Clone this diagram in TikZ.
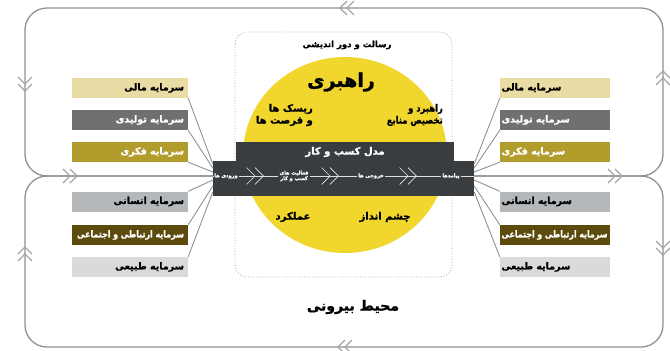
\documentclass[tikz,border=0pt]{standalone}
\usepackage{fontspec}
\usepackage{graphicx}
\usetikzlibrary{calc}
\newfontfamily\fa[Script=Arabic, BoldFeatures={FakeBold=1.3}]{DejaVu Sans}
\newfontfamily\fanar[Script=Arabic, FakeStretch=0.84, BoldFeatures={FakeBold=1.3}]{DejaVu Sans}
\TeXXeTstate=1
\newcommand\rl[1]{\beginR #1\endR}
\definecolor{cyel}{RGB}{241,215,45}
\definecolor{cband}{RGB}{58,61,63}
\definecolor{ctan}{RGB}{234,220,165}
\definecolor{cgray}{RGB}{110,113,112}
\definecolor{colive}{RGB}{178,156,44}
\definecolor{clgray}{RGB}{181,184,186}
\definecolor{cdolive}{RGB}{92,75,12}
\definecolor{cvlgray}{RGB}{218,218,218}
\definecolor{cline}{RGB}{145,145,145}
\definecolor{cchev}{RGB}{165,165,165}
\tikzset{
  dchev/.pic={\draw[pic actions] (-7,-7)--(0,0)--(-7,7) (0,-7)--(7,0)--(0,7);},
  outer/.style={draw=cline, line width=1.3pt, rounded corners=22pt},
  ochev/.style={draw=cchev, line width=1.1pt},
  bchev/.style={draw=white!80!gray, line width=0.7pt, scale=1.2},
  conn/.style={draw=cline, line width=0.9pt},
  boxfont/.style={font=\fa\bfseries\fontsize{9.5}{11}\selectfont},
  lbox/.style={boxfont, minimum height=20pt, text width=108pt, inner xsep=4pt, inner ysep=0pt, align=right},
  rbox/.style={boxfont, minimum height=20pt, text width=107pt, inner xsep=1.5pt, inner ysep=0pt, align=left},
  ctext/.style={font=\fa\bfseries\fontsize{10}{12}\selectfont, inner sep=1pt},
  flow/.style={text=white, font=\fa\bfseries\fontsize{5}{5.5}\selectfont, inner sep=1.5pt, align=center},
  flowline/.style={draw=white!75!gray, line width=0.6pt}
}
\begin{document}
\begin{tikzpicture}[x=1pt,y=-1pt]
\useasboundingbox (0,0) rectangle (670,351);
% outer loops
\draw[outer] (25,8) rectangle (663,176);
\draw[outer] (25,176) rectangle (663,347);
\pic[ochev, rotate=180] at (347,8) {dchev};
\pic[ochev, rotate=-90] at (25,84) {dchev};
\pic[ochev, rotate=90] at (663,78) {dchev};
\pic[ochev] at (70,176) {dchev};
\pic[ochev] at (615,176) {dchev};
\pic[ochev, rotate=90] at (25,254) {dchev};
\pic[ochev, rotate=-90] at (663,248) {dchev};
\pic[ochev, rotate=180] at (345,347) {dchev};
% central dotted frame
\draw[dotted, draw=gray!75, line width=0.8pt, rounded corners=12pt] (235,32) rectangle (452,277);
\node[font=\fa\bfseries\fontsize{8.5}{10}\selectfont] (mission) at (347,45) {\rl{رسالت و دور اندیشی}};
% yellow disc
\fill[cyel] (345,155) ellipse [x radius=102pt, y radius=98pt];
\node[font=\fa\bfseries\fontsize{19}{22}\selectfont, inner sep=0pt] (rahbari) at (341,82) {\rl{راهبری}};
\node[ctext, align=right, anchor=east] (risk) at (314,115) {\rl{ریسک ها}\\\rl{و فرصت ها}};
\node[ctext, align=right, anchor=east, font=\fanar\bfseries\fontsize{10}{12}\selectfont] (strat) at (444,115) {\rl{راهبرد و}\\\rl{تخصیص منابع}};
\node[ctext] (amal) at (293,217) {\rl{عملکرد}};
\node[ctext] (cheshm) at (385,217) {\rl{چشم انداز}};
% business model band
\node[fill=cband, minimum width=261pt, minimum height=35pt, inner sep=0pt] (bandL) at (343.5,178.5) {};
\node[fill=cband, minimum width=218pt, minimum height=20pt, inner sep=0pt, text=white, font=\fa\bfseries\fontsize{10}{11}\selectfont] (bandU) at (345,152) {\rl{مدل کسب و کار}};
\node[flow] (f1) at (226,176) {\rl{ورودی ها}};
\node[flow] (f2) at (294,176) {\rl{فعالیت های}\\\rl{کسب و کار}};
\node[flow] (f3) at (371,176) {\rl{خروجی ها}};
\node[flow] (f4) at (451,176) {\rl{پیامدها}};
\draw[flowline] (bandL.west |- f1) -- (f1);
\draw[flowline] (f1) -- (f2);
\draw[flowline] (f2) -- (f3);
\draw[flowline] (f3) -- (f4);
\draw[flowline] (f4) -- (bandL.east |- f4);
\pic[bchev] at (255,176) {dchev};
\pic[bchev] at (330,176) {dchev};
\pic[bchev] at (408,176) {dchev};
% left capitals
\node[lbox, fill=ctan] (l1) at (130,88) {\rl{سرمایه مالی}};
\node[lbox, fill=cgray, text=white] (l2) at (130,120) {\rl{سرمایه تولیدی}};
\node[lbox, fill=colive, text=white] (l3) at (130,152) {\rl{سرمایه فکری}};
\node[lbox, fill=clgray] (l4) at (130,201.5) {\rl{سرمایه انسانی}};
\node[lbox, fill=cdolive, text=white] (l5) at (130,235) {\resizebox{107pt}{\height}{\rl{سرمایه ارتباطی و  اجتماعی}}};
\node[lbox, fill=cvlgray] (l6) at (130,267) {\rl{سرمایه طبیعی}};
% right capitals
\node[rbox, fill=ctan] (r1) at (555,88) {\rl{سرمایه مالی}};
\node[rbox, fill=cgray, text=white] (r2) at (555,120) {\rl{سرمایه تولیدی}};
\node[rbox, fill=colive, text=white] (r3) at (555,152) {\rl{سرمایه فکری}};
\node[rbox, fill=clgray] (r4) at (555,201.5) {\rl{سرمایه انسانی}};
\node[rbox, fill=cdolive, text=white] (r5) at (555,235) {\resizebox{106pt}{\height}{\rl{سرمایه ارتباطی و  اجتماعی}}};
\node[rbox, fill=cvlgray] (r6) at (555,267) {\rl{سرمایه طبیعی}};
% connectors
\draw[conn] (l1.south east) -- ($(bandL.west)+(0,-14.5)$);
\draw[conn] (l2.south east) -- ($(bandL.west)+(0,-10.5)$);
\draw[conn] (l3.south east) -- ($(bandL.west)+(0,-6.5)$);
\draw[conn] (l4.north east) -- ($(bandL.west)+(0,1.5)$);
\draw[conn] (l5.north east) -- ($(bandL.west)+(0,7.5)$);
\draw[conn] (l6.north east) -- ($(bandL.west)+(0,13.5)$);
\draw[conn] (r1.south west) -- ($(bandL.east)+(0,-14.5)$);
\draw[conn] (r2.south west) -- ($(bandL.east)+(0,-10.5)$);
\draw[conn] (r3.south west) -- ($(bandL.east)+(0,-6.5)$);
\draw[conn] (r4.north west) -- ($(bandL.east)+(0,1.5)$);
\draw[conn] (r5.north west) -- ($(bandL.east)+(0,7.5)$);
\draw[conn] (r6.north west) -- ($(bandL.east)+(0,13.5)$);
% environment
\node[font=\fa\bfseries\fontsize{14}{16}\selectfont] (env) at (353,307) {\rl{محیط بیرونی}};
\end{tikzpicture}
\end{document}
